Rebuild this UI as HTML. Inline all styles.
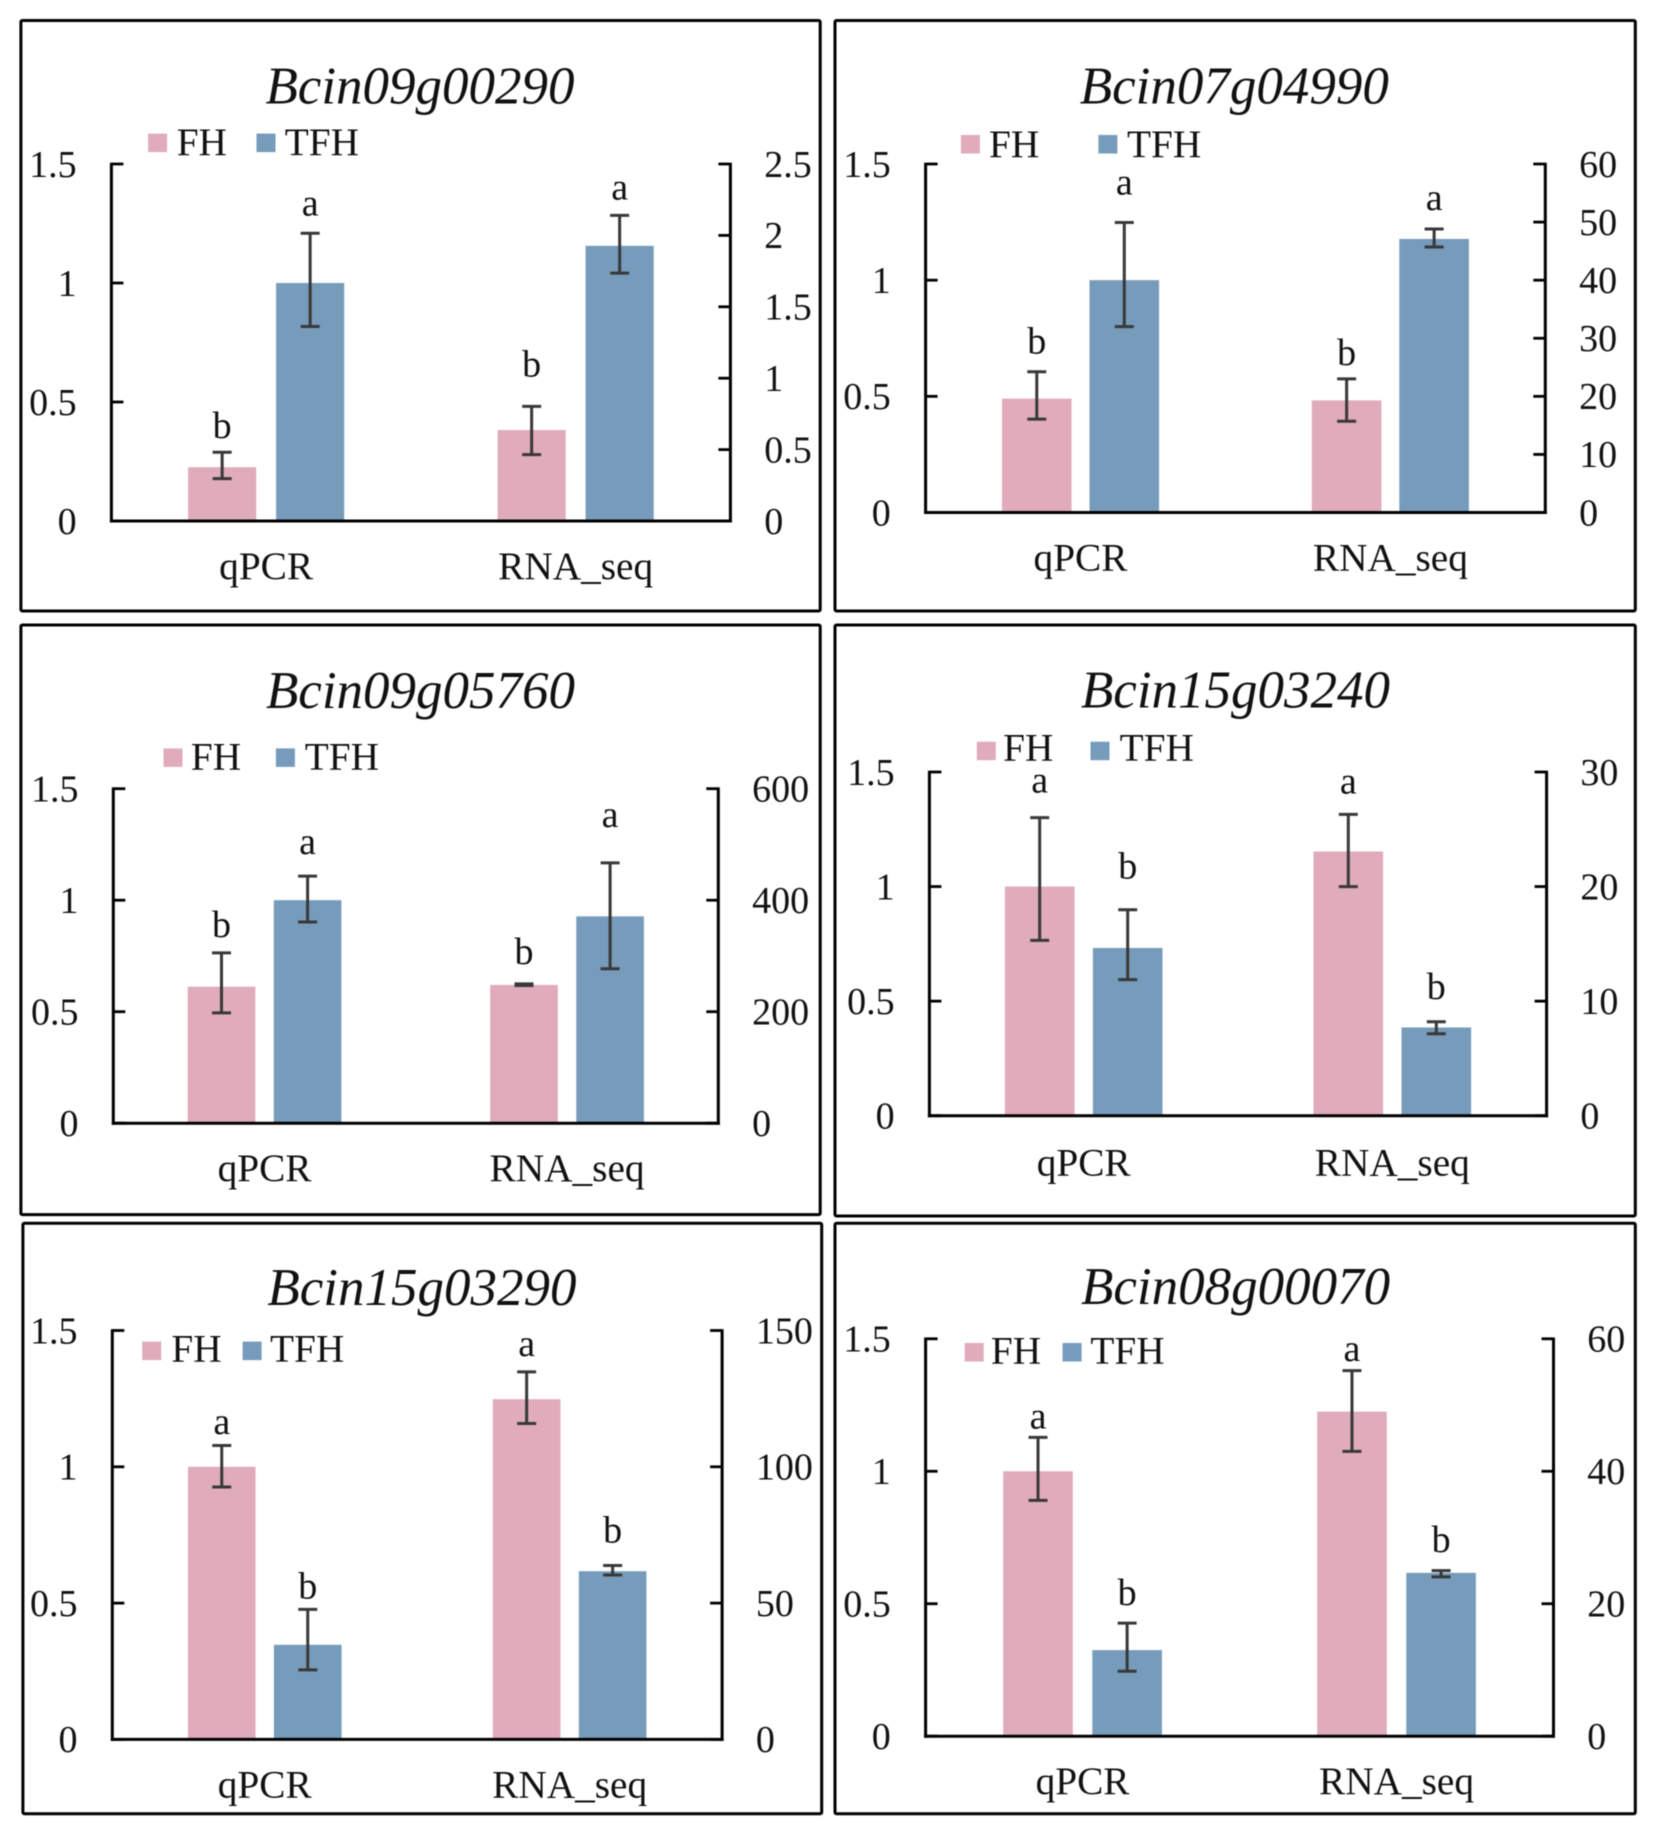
<!DOCTYPE html>
<html lang="en">
<head>
<meta charset="utf-8">
<title>qPCR and RNA_seq expression of six Botrytis genes</title>
<style>
  html, body { margin: 0; padding: 0; background: #fff; }
  #figure { display: block; width: 1654px; height: 1824px; filter: blur(0.5px); }
  text { font-family: "Liberation Serif", serif; fill: #111; }
</style>
</head>
<body>
<svg id="figure" xmlns="http://www.w3.org/2000/svg" width="1654" height="1824" viewBox="0 0 1654 1824"></svg>
<script>
// ---- Shared data ----
const categories = ['qPCR', 'RNA_seq'];
const seriesNames = ['FH', 'TFH'];
const geneNames = ['Bcin09g00290', 'Bcin07g04990', 'Bcin09g05760', 'Bcin15g03240', 'Bcin15g03290', 'Bcin08g00070'];
const leftTicks = [0, 0.5, 1, 1.5];

// ---- Panel 1: values are [qPCR on left axis, RNA_seq on right axis] ----
const rightTicks1 = [0, 0.5, 1, 1.5, 2, 2.5];
const fhValues1 = [0.226, 0.637];
const fhUpper1 = [0.289, 0.803];
const fhLower1 = [0.178, 0.465];
const fhLetters1 = ['b', 'b'];
const tfhValues1 = [1.0, 1.927];
const tfhUpper1 = [1.209, 2.14];
const tfhLower1 = [0.817, 1.736];
const tfhLetters1 = ['a', 'a'];

// ---- Panel 2 ----
const rightTicks2 = [0, 10, 20, 30, 40, 50, 60];
const fhValues2 = [0.49, 19.3];
const fhUpper2 = [0.606, 23.0];
const fhLower2 = [0.402, 15.7];
const fhLetters2 = ['b', 'b'];
const tfhValues2 = [1.0, 47.1];
const tfhUpper2 = [1.248, 48.8];
const tfhLower2 = [0.8, 45.7];
const tfhLetters2 = ['a', 'a'];

// ---- Panel 3 ----
const rightTicks3 = [0, 200, 400, 600];
const fhValues3 = [0.612, 248];
const fhUpper3 = [0.764, 250];
const fhLower3 = [0.495, 247];
const fhLetters3 = ['b', 'b'];
const tfhValues3 = [1.0, 371];
const tfhUpper3 = [1.108, 467];
const tfhLower3 = [0.902, 277];
const tfhLetters3 = ['a', 'a'];

// ---- Panel 4 ----
const rightTicks4 = [0, 10, 20, 30];
const fhValues4 = [1.0, 23.06];
const fhUpper4 = [1.301, 26.3];
const fhLower4 = [0.765, 20.0];
const fhLetters4 = ['a', 'a'];
const tfhValues4 = [0.732, 7.7];
const tfhUpper4 = [0.899, 8.2];
const tfhLower4 = [0.594, 7.15];
const tfhLetters4 = ['b', 'b'];

// ---- Panel 5 ----
const rightTicks5 = [0, 50, 100, 150];
const fhValues5 = [1.0, 124.8];
const fhUpper5 = [1.078, 134.8];
const fhLower5 = [0.926, 115.9];
const fhLetters5 = ['a', 'a'];
const tfhValues5 = [0.347, 61.7];
const tfhUpper5 = [0.477, 63.8];
const tfhLower5 = [0.255, 60.3];
const tfhLetters5 = ['b', 'b'];

// ---- Panel 6 ----
const rightTicks6 = [0, 20, 40, 60];
const fhValues6 = [1.0, 49.0];
const fhUpper6 = [1.128, 55.2];
const fhLower6 = [0.89, 43.0];
const fhLetters6 = ['a', 'a'];
const tfhValues6 = [0.325, 24.66];
const tfhUpper6 = [0.427, 25.0];
const tfhLower6 = [0.245, 24.06];
const tfhLetters6 = ['b', 'b'];

// ---- Per-panel wiring of the data arrays ----
const panelData = [
  { right: rightTicks1, values: [fhValues1, tfhValues1], upper: [fhUpper1, tfhUpper1], lower: [fhLower1, tfhLower1], letters: [fhLetters1, tfhLetters1] },
  { right: rightTicks2, values: [fhValues2, tfhValues2], upper: [fhUpper2, tfhUpper2], lower: [fhLower2, tfhLower2], letters: [fhLetters2, tfhLetters2] },
  { right: rightTicks3, values: [fhValues3, tfhValues3], upper: [fhUpper3, tfhUpper3], lower: [fhLower3, tfhLower3], letters: [fhLetters3, tfhLetters3] },
  { right: rightTicks4, values: [fhValues4, tfhValues4], upper: [fhUpper4, tfhUpper4], lower: [fhLower4, tfhLower4], letters: [fhLetters4, tfhLetters4] },
  { right: rightTicks5, values: [fhValues5, tfhValues5], upper: [fhUpper5, tfhUpper5], lower: [fhLower5, tfhLower5], letters: [fhLetters5, tfhLetters5] },
  { right: rightTicks6, values: [fhValues6, tfhValues6], upper: [fhUpper6, tfhUpper6], lower: [fhLower6, tfhLower6], letters: [fhLetters6, tfhLetters6] }
];

// ---- Layout only (no data) ----
const panelLayouts = [
  { frame: [20.9, 20.5, 820.2, 611], plot: [111.4, 164, 730.4, 521], barW: 68.1, gap: 19.9, titleX: 420, titleY: 103.6, catOffset: 58,
    legend: { y: 133.6, base: 155, fhX: 148.1, fhText: 176.7, tfhX: 256.5, tfhText: 284.8 }, letterGap: [[14, 30], [18, 16]] },
  { frame: [835, 20.5, 1635.3, 611], plot: [925.6, 164, 1545.3, 512.5], barW: 69.6, gap: 17.9, titleX: 1234.3, titleY: 103.6, catOffset: 58,
    legend: { y: 135, base: 157, fhX: 960.9, fhText: 989, tfhX: 1098.4, tfhText: 1127 }, letterGap: [[18, 14], [28, 19]] },
  { frame: [20.9, 625, 820.2, 1214.6], plot: [113.3, 788.7, 718.3, 1123.2], barW: 67.6, gap: 18.5, titleX: 420.5, titleY: 708, catOffset: 58,
    legend: { y: 748.4, base: 769.7, fhX: 163.5, fhText: 190.9, tfhX: 275.9, tfhText: 304.8 }, letterGap: [[16, 20], [22, 36]] },
  { frame: [835, 625, 1635.3, 1216], plot: [929.4, 772, 1546.6, 1115.7], barW: 69.6, gap: 18.4, titleX: 1235.5, titleY: 707.7, catOffset: 60,
    legend: { y: 741.7, base: 760.6, fhX: 976.8, fhText: 1003.1, tfhX: 1090.5, tfhText: 1119.6 }, letterGap: [[25, 21], [31, 23]] },
  { frame: [22.9, 1223.3, 821.7, 1813.7], plot: [112.3, 1330.5, 722.1, 1739.4], barW: 67.6, gap: 18.4, titleX: 421.9, titleY: 1304.8, catOffset: 58,
    legend: { y: 1341.6, base: 1361.4, fhX: 142.2, fhText: 171.4, tfhX: 242.6, tfhText: 270 }, letterGap: [[11.5, 16], [11, 23]] },
  { frame: [835, 1223.3, 1635.3, 1813.7], plot: [925.6, 1338.8, 1553.5, 1736.2], barW: 69.6, gap: 19.5, titleX: 1235.6, titleY: 1304, catOffset: 58,
    legend: { y: 1343, base: 1363.4, fhX: 964.7, fhText: 990.9, tfhX: 1062.6, tfhText: 1090.4 }, letterGap: [[9, 9.5], [18, 18.6]] }
];

const seriesColors = ['#E0ABBA', '#769BBB'];
const TICK_FONT = 38;
const LABEL_FONT = 39.3;
const TITLE_FONT = 53;
const svgNS = 'http://www.w3.org/2000/svg';
const root = document.getElementById('figure');

function make(parent, tag, attrs, content) {
  const node = document.createElementNS(svgNS, tag);
  for (const key in attrs) node.setAttribute(key, attrs[key]);
  if (content !== undefined) node.textContent = content;
  parent.appendChild(node);
  return node;
}

function line(parent, x1, y1, x2, y2, color, width) {
  return make(parent, 'line', { x1: x1, y1: y1, x2: x2, y2: y2, stroke: color, 'stroke-width': width });
}

function drawPanel(index) {
  const data = panelData[index];
  const layout = panelLayouts[index];
  const left = layout.plot[0], top = layout.plot[1], right = layout.plot[2], bottom = layout.plot[3];
  const leftMax = leftTicks[leftTicks.length - 1];
  const rightMax = data.right[data.right.length - 1];
  const yLeft = function (v) { return bottom - (v / leftMax) * (bottom - top); };
  const yRight = function (v) { return bottom - (v / rightMax) * (bottom - top); };
  const yForCategory = function (c, v) { return c === 0 ? yLeft(v) : yRight(v); };
  const bandWidth = (right - left) / categories.length;
  const bandCenter = function (c) { return left + bandWidth * (c + 0.5); };
  const barLeft = function (c, s) {
    const total = layout.barW * seriesNames.length + layout.gap * (seriesNames.length - 1);
    return bandCenter(c) - total / 2 + s * (layout.barW + layout.gap);
  };

  const panel = make(root, 'g', {});
  
  

  const frame = make(panel, 'rect', {
    x: layout.frame[0], y: layout.frame[1],
    width: layout.frame[2] - layout.frame[0], height: layout.frame[3] - layout.frame[1],
    fill: '#fff', stroke: '#000', 'stroke-width': 3, rx: 1.5
  });
  
  

  const title = make(panel, 'text', {
    x: layout.titleX, y: layout.titleY, 'text-anchor': 'middle',
    'font-size': TITLE_FONT, 'font-style': 'italic'
  }, geneNames[index]);
  
  

  // Legend
  const legendSwatchX = [layout.legend.fhX, layout.legend.tfhX];
  const legendTextX = [layout.legend.fhText, layout.legend.tfhText];
  seriesNames.forEach(function (name, s) {
    const swatch = make(panel, 'rect', {
      x: legendSwatchX[s], y: layout.legend.y, width: 19, height: 18.5, fill: seriesColors[s]
    });
    
    
    const label = make(panel, 'text', {
      x: legendTextX[s], y: layout.legend.base, 'font-size': LABEL_FONT
    }, name);
    
    
  });

  // Bars, error bars, letters
  categories.forEach(function (cat, c) {
    seriesNames.forEach(function (name, s) {
      const x = barLeft(c, s);
      const barTop = yForCategory(c, data.values[s][c]);
      const bar = make(panel, 'rect', {
        x: x, y: barTop, width: layout.barW, height: bottom - barTop, fill: seriesColors[s]
      });
      
      

      const cx = x + layout.barW / 2;
      const yUp = yForCategory(c, data.upper[s][c]);
      const yLow = yForCategory(c, data.lower[s][c]);
      const err = make(panel, 'g', { stroke: '#383838' });
      
      
      line(err, cx, yUp, cx, yLow, '#383838', 3);
      line(err, cx - 9.5, yUp, cx + 9.5, yUp, '#383838', 3);
      line(err, cx - 9.5, yLow, cx + 9.5, yLow, '#383838', 3);

      const letter = make(panel, 'text', {
        x: cx, y: yUp - layout.letterGap[s][c], 'text-anchor': 'middle', 'font-size': TICK_FONT
      }, data.letters[s][c]);
      
      
    });

    const catLabel = make(panel, 'text', {
      x: bandCenter(c), y: bottom + layout.catOffset, 'text-anchor': 'middle', 'font-size': LABEL_FONT
    }, cat);
    
    
  });

  // Axes
  const axes = make(panel, 'g', {});
  
  
  line(axes, left, top - 1.3, left, bottom + 1.5, '#000', 3);
  line(axes, right, top - 1.3, right, bottom + 1.5, '#000', 3);
  line(axes, left - 1.5, bottom, right + 1.5, bottom, '#000', 3);

  leftTicks.forEach(function (v) {
    const y = yLeft(v);
    const tick = line(axes, left, y, left + 12, y, '#000', 2.8);
    
    
    const label = make(panel, 'text', {
      x: left - 34.8, y: y + 12.8, 'text-anchor': 'end', 'font-size': TICK_FONT
    }, String(v));
    
    
  });

  data.right.forEach(function (v) {
    const y = yRight(v);
    const tick = line(axes, right - 12, y, right, y, '#000', 2.8);
    
    
    const label = make(panel, 'text', {
      x: right + 33.8, y: y + 12.8, 'text-anchor': 'start', 'font-size': TICK_FONT
    }, String(v));
    
    
  });
}

panelData.forEach(function (d, i) { drawPanel(i); });
</script>
</body>
</html>
